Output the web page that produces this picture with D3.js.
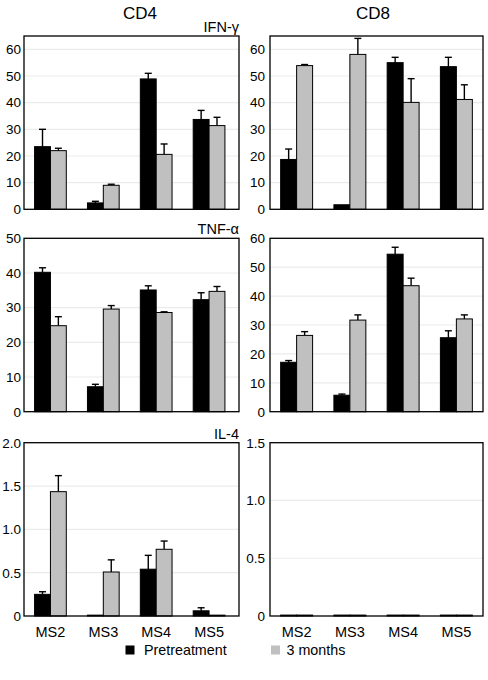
<!DOCTYPE html>
<html>
<head>
<meta charset="utf-8">
<script src="https://cdn.jsdelivr.net/npm/d3@7/dist/d3.min.js"></script>
<style>
  html, body { margin: 0; padding: 0; background: #fff; }
  svg { display: block; font-family: "Liberation Sans", Arial, Helvetica, sans-serif; }
</style>
</head>
<body>
<svg id="chart" width="488" height="680"></svg>
<script>
// ---------------- DATA ----------------
const categories = ["MS2", "MS3", "MS4", "MS5"];
const seriesNames = ["Pretreatment", "3 months"];
const columnTitles = ["CD4", "CD8"];
const rowLabels = ["IFN-\u03b3", "TNF-\u03b1", "IL-4"];

// CD4 IFN-γ
const cd4IfnPre = [23.5, 2.4, 48.9, 33.7];
const cd4IfnPreErr = [6.5, 0.6, 2.1, 3.4];
const cd4Ifn3m = [22.0, 9.0, 20.6, 31.4];
const cd4Ifn3mErr = [0.9, 0.4, 3.9, 3.1];
// CD8 IFN-γ
const cd8IfnPre = [18.7, 1.7, 55.0, 53.5];
const cd8IfnPreErr = [3.9, 0, 2.0, 3.5];
const cd8Ifn3m = [53.9, 58.1, 40.1, 41.2];
const cd8Ifn3mErr = [0.4, 6.0, 8.9, 5.5];
// CD4 TNF-α
const cd4TnfPre = [40.2, 7.2, 35.1, 32.3];
const cd4TnfPreErr = [1.3, 0.7, 1.2, 2.0];
const cd4Tnf3m = [24.8, 29.6, 28.6, 34.7];
const cd4Tnf3mErr = [2.6, 1.0, 0.2, 1.4];
// CD8 TNF-α
const cd8TnfPre = [17.1, 5.7, 54.5, 25.6];
const cd8TnfPreErr = [0.6, 0.4, 2.4, 2.4];
const cd8Tnf3m = [26.4, 31.7, 43.6, 32.1];
const cd8Tnf3mErr = [1.3, 1.8, 2.6, 1.4];
// CD4 IL-4
const cd4Il4Pre = [0.25, 0.01, 0.54, 0.06];
const cd4Il4PreErr = [0.03, 0, 0.16, 0.035];
const cd4Il43m = [1.435, 0.508, 0.77, 0.01];
const cd4Il43mErr = [0.185, 0.14, 0.095, 0];
// CD8 IL-4
const cd8Il4Pre = [0.008, 0.008, 0.008, 0.008];
const cd8Il4PreErr = [0, 0, 0, 0];
const cd8Il43m = [0.008, 0.008, 0.008, 0.008];
const cd8Il43mErr = [0, 0, 0, 0];

// tick labels per panel
const ticksIfn = [0, 10, 20, 30, 40, 50, 60];
const ticksCd4Tnf = [0, 10, 20, 30, 40, 50];
const ticksCd8Tnf = [0, 10, 20, 30, 40, 50, 60];
const ticksCd4Il4 = [0, 0.5, 1.0, 1.5, 2.0];
const ticksCd8Il4 = [0, 0.5, 1.0, 1.5];
const domainMax = [[65, 65], [50, 60], [2.0, 1.5]];

// ---------------- LAYOUT ----------------
const colX = [[24, 239], [270, 483]];
const rowY = [[36, 209.3], [238.3, 411.7], [442.7, 616]];
const colors = ["#000000", "#c0c0c0"];

const panels = [
  {r: 0, c: 0, pre: cd4IfnPre, preE: cd4IfnPreErr, m3: cd4Ifn3m, m3E: cd4Ifn3mErr, ticks: ticksIfn},
  {r: 0, c: 1, pre: cd8IfnPre, preE: cd8IfnPreErr, m3: cd8Ifn3m, m3E: cd8Ifn3mErr, ticks: ticksIfn},
  {r: 1, c: 0, pre: cd4TnfPre, preE: cd4TnfPreErr, m3: cd4Tnf3m, m3E: cd4Tnf3mErr, ticks: ticksCd4Tnf},
  {r: 1, c: 1, pre: cd8TnfPre, preE: cd8TnfPreErr, m3: cd8Tnf3m, m3E: cd8Tnf3mErr, ticks: ticksCd8Tnf},
  {r: 2, c: 0, pre: cd4Il4Pre, preE: cd4Il4PreErr, m3: cd4Il43m, m3E: cd4Il43mErr, ticks: ticksCd4Il4},
  {r: 2, c: 1, pre: cd8Il4Pre, preE: cd8Il4PreErr, m3: cd8Il43m, m3E: cd8Il43mErr, ticks: ticksCd8Il4}
];

const svg = d3.select("#chart");

panels.forEach(p => {
  const [x0, x1] = colX[p.c];
  const [y0, y1] = rowY[p.r];
  const g = svg.append("g");
  const y = d3.scaleLinear().domain([0, domainMax[p.r][p.c]]).range([y1, y0]);
  const bandEnd = p.c === 0 ? x1 - 3.5 : x1;
  const x = d3.scaleBand().domain(categories).range([x0, bandEnd]).paddingInner(0.4).paddingOuter(0.2);
  const xs = d3.scaleBand().domain(seriesNames).range([0, x.bandwidth()]);

  // gridlines
  g.selectAll("line.grid").data(p.ticks.filter(t => t > 0 && t < domainMax[p.r][p.c]))
    .join("line").attr("class", "grid")
    .attr("x1", x0).attr("x2", x1)
    .attr("y1", d => y(d)).attr("y2", d => y(d))
    .attr("stroke", "#ebebeb").attr("stroke-width", 1.2);

  // y axis labels
  const fmt = p.r === 2 ? (d => d === 0 ? "0" : d3.format(".1f")(d)) : d3.format("d");
  const yAxis = d3.axisLeft(y).tickValues(p.ticks).tickFormat(fmt).tickSize(0).tickPadding(p.c === 0 ? 3 : 5);
  const ax = g.append("g").attr("transform", `translate(${x0},0)`).call(yAxis);
  ax.select(".domain").remove();
  ax.selectAll("text").attr("font-size", 13.5).attr("fill", "#000")
    .attr("font-family", "'Liberation Sans', Arial, sans-serif");

  // bars
  const rows = categories.map((cat, i) => ({cat, vals: [
    {s: seriesNames[0], v: p.pre[i], e: p.preE[i]},
    {s: seriesNames[1], v: p.m3[i], e: p.m3E[i]}
  ]}));
  const grp = g.selectAll("g.cat").data(rows).join("g").attr("class", "cat")
    .attr("transform", d => `translate(${x(d.cat)},0)`);

  // error bars
  grp.selectAll("g.err").data(d => d.vals.filter(v => v.e > 0)).join("g").attr("class", "err")
    .each(function(d) {
      const cx = xs(d.s) + xs.bandwidth() / 2;
      const sel = d3.select(this);
      sel.append("line").attr("x1", cx).attr("x2", cx)
        .attr("y1", y(d.v)).attr("y2", y(d.v + d.e))
        .attr("stroke", "#000").attr("stroke-width", 1.4);
      sel.append("line").attr("x1", cx - 3.5).attr("x2", cx + 3.5)
        .attr("y1", y(d.v + d.e)).attr("y2", y(d.v + d.e))
        .attr("stroke", "#000").attr("stroke-width", 1.4);
    });

  grp.selectAll("rect").data(d => d.vals).join("rect")
    .attr("x", d => xs(d.s))
    .attr("width", xs.bandwidth())
    .attr("y", d => y(d.v))
    .attr("height", d => y(0) - y(d.v))
    .attr("fill", (d, i) => colors[i])
    .attr("stroke", "#000").attr("stroke-width", 1);

  // frame
  g.append("rect").attr("x", x0).attr("y", y0).attr("width", x1 - x0).attr("height", y1 - y0)
    .attr("fill", "none").attr("stroke", "#000").attr("stroke-width", 1.3);

  // category labels on bottom row
  if (p.r === 2) {
    const xa = d3.axisBottom(x).tickSize(0).tickPadding(11);
    const xg = g.append("g").attr("transform", `translate(0,${y1})`).call(xa);
    xg.select(".domain").remove();
    xg.selectAll("text").attr("font-size", 14.5).attr("fill", "#000")
      .attr("font-family", "'Liberation Sans', Arial, sans-serif");
  }

  // row label (left column only)
  if (p.c === 0) {
    svg.append("text").attr("x", x1).attr("y", y0 - 4)
      .attr("text-anchor", "end").attr("font-size", 14.5).text(rowLabels[p.r]);
  }
});

// column titles
svg.selectAll("text.coltitle").data(columnTitles).join("text").attr("class", "coltitle")
  .attr("x", (d, i) => i === 0 ? 140 : 373)
  .attr("y", 18.5)
  .attr("text-anchor", "middle").attr("font-size", 17).text(d => d);

// legend
const legendPos = [[125.5, 144], [271, 286.5]];
seriesNames.forEach((s, i) => {
  svg.append("rect").attr("x", legendPos[i][0]).attr("y", 645.5).attr("width", 9).attr("height", 9)
    .attr("fill", colors[i]);
  svg.append("text").attr("x", legendPos[i][1]).attr("y", 654.5).attr("font-size", 14.3).text(s);
});
</script>
</body>
</html>
